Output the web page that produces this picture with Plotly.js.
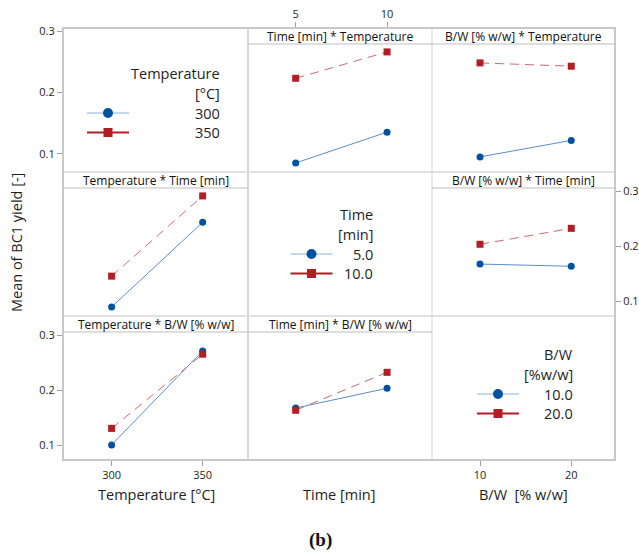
<!DOCTYPE html>
<html>
<head>
<meta charset="utf-8">
<script src="https://cdn.plot.ly/plotly-3.0.1.min.js"></script>
<style>
  html, body { margin: 0; padding: 0; background: #ffffff; }
  #plot { width: 639px; height: 555px; }
</style>
</head>
<body>
<div id="plot"></div>
<script>
// Factor levels
const temperature = [300, 350];
const time = [5, 10];
const bw = [10, 20];

// Mean BC1 yield for each pair of factor levels
// Temperature x Time (indexed by temperature)
const tempTime_t5 = [0.090, 0.244];
const tempTime_t10 = [0.146, 0.292];
// Temperature x B/W (indexed by temperature)
const tempBW_bw10 = [0.101, 0.272];
const tempBW_bw20 = [0.131, 0.266];
// Time x B/W (indexed by time)
const timeBW_bw10 = [0.168, 0.204];
const timeBW_bw20 = [0.164, 0.233];

// Axis ticks
const yTicks = [0.1, 0.2, 0.3];
const yTickText = ['0.1', '0.2', '0.3'];

// Legend labels
const tempLegend = ['300', '350'];
const timeLegend = ['5.0', '10.0'];
const bwLegend = ['10.0', '20.0'];

// ---- layout helpers (page is 639 x 555, no margins) ----
const W = 639, H = 555;
const px = x => x / W;
const py = y => 1 - y / H;

const colEdges = [63, 248, 432, 615];
const rowEdges = [28, 172, 316, 460];
const headerH = 16;

const xRanges = [[273.3, 374.9], [2.39, 12.46], [4.74, 24.79]];
const yRange = [0.0735, 0.3355];
// upper-left cell carries its own tick scale
const yRangeTopLeft = [0.0707, 0.3049];

const BLUE = 'rgb(0,82,160)';
const BLUE_LINE = 'rgb(95,140,200)';
const RED = 'rgb(178,30,36)';
const RED_LINE = 'rgb(205,105,112)';
const FRAME = 'rgb(200,200,200)';
const TXT = '#1e1e1e';
const FONT = 'Open Sans, Noto Sans, sans-serif';

const layout = {
  width: W, height: H,
  margin: {l: 0, r: 0, t: 0, b: 0},
  paper_bgcolor: '#ffffff',
  plot_bgcolor: 'rgba(0,0,0,0)',
  showlegend: false,
  font: {family: FONT, color: TXT},
  shapes: [],
  annotations: []
};

function axisBase() {
  return {
    showgrid: false, zeroline: false, showline: false,
    ticks: '', showticklabels: false, fixedrange: true,
    tickfont: {family: FONT, size: 11, color: TXT},
    ticklen: 5, tickcolor: 'rgb(160,160,160)', tickwidth: 1
  };
}

// build 3x3 grid of axes
let n = 0;
const cell = {};
const traces = [];
for (let r = 0; r < 3; r++) {
  for (let c = 0; c < 3; c++) {
    n++;
    const xa = 'xaxis' + (n === 1 ? '' : n);
    const ya = 'yaxis' + (n === 1 ? '' : n);
    const xs = 'x' + (n === 1 ? '' : n);
    const ys = 'y' + (n === 1 ? '' : n);
    const xA = axisBase();
    xA.domain = [px(colEdges[c]), px(colEdges[c + 1])];
    xA.range = xRanges[c];
    xA.anchor = ys;
    const yA = axisBase();
    yA.domain = [py(rowEdges[r + 1]), py(rowEdges[r])];
    yA.range = (r === 0 && c === 0) ? yRangeTopLeft : yRange;
    yA.anchor = xs;
    layout[xa] = xA;
    layout[ya] = yA;
    cell[r + '' + c] = {xs, ys, xA, yA};
    // register every subplot so that its axes are drawn
    traces.push({x: [], y: [], xaxis: xs, yaxis: ys, type: 'scatter', mode: 'markers', hoverinfo: 'skip'});
  }
}

// ticks: left of rows 1 and 3, right of row 2
function yTickAxis(a, side) {
  a.ticks = 'outside'; a.showticklabels = true;
  a.tickvals = yTicks; a.ticktext = yTickText; a.side = side;
}
yTickAxis(cell['00'].yA, 'left');
yTickAxis(cell['12'].yA, 'right');
yTickAxis(cell['20'].yA, 'left');

// x ticks: time on top, temperature and B/W at the bottom
function xTickAxis(a, vals, side) {
  a.ticks = 'outside'; a.showticklabels = true;
  a.tickvals = vals; a.ticktext = vals.map(String); a.side = side;
}
xTickAxis(cell['01'].xA, time, 'top');
xTickAxis(cell['20'].xA, temperature, 'bottom');
xTickAxis(cell['22'].xA, bw, 'bottom');

function addPair(key, x, yBlue, yRed) {
  const {xs, ys} = cell[key];
  traces.push({
    x: x, y: yBlue, xaxis: xs, yaxis: ys, type: 'scatter', mode: 'lines+markers',
    line: {color: BLUE_LINE, width: 1},
    marker: {symbol: 'circle', size: 7, color: BLUE}, hoverinfo: 'x+y'
  });
  traces.push({
    x: x, y: yRed, xaxis: xs, yaxis: ys, type: 'scatter', mode: 'lines+markers',
    line: {color: RED_LINE, width: 1, dash: '9px,6px'},
    marker: {symbol: 'square', size: 7, color: RED}, hoverinfo: 'x+y'
  });
}

// row 1: traces grouped by temperature
addPair('01', time, [tempTime_t5[0], tempTime_t10[0]], [tempTime_t5[1], tempTime_t10[1]]);
addPair('02', bw, [tempBW_bw10[0], tempBW_bw20[0]], [tempBW_bw10[1], tempBW_bw20[1]]);
// row 2: traces grouped by time
addPair('10', temperature, tempTime_t5, tempTime_t10);
addPair('12', bw, [timeBW_bw10[0], timeBW_bw20[0]], [timeBW_bw10[1], timeBW_bw20[1]]);
// row 3: traces grouped by B/W
addPair('20', temperature, tempBW_bw10, tempBW_bw20);
addPair('21', time, timeBW_bw10, timeBW_bw20);

// panel frame
const shapes = layout.shapes;
function pline(x0, y0, x1, y1, color, width) {
  shapes.push({type: 'line', xref: 'paper', yref: 'paper',
    x0: px(x0), y0: py(y0), x1: px(x1), y1: py(y1),
    line: {color: color, width: width}});
}
pline(colEdges[1], rowEdges[0], colEdges[1], rowEdges[3], FRAME, 1.5);
pline(colEdges[2], rowEdges[0], colEdges[2], rowEdges[3], 'rgb(215,215,215)', 1);
pline(colEdges[0], rowEdges[1], colEdges[3], rowEdges[1], 'rgb(215,215,215)', 1.5);
pline(colEdges[0], rowEdges[2], colEdges[3], rowEdges[2], 'rgb(215,215,215)', 1.5);
shapes.push({type: 'rect', xref: 'paper', yref: 'paper',
  x0: px(colEdges[0]), y0: py(rowEdges[3]), x1: px(colEdges[3]), y1: py(rowEdges[0]),
  line: {color: FRAME, width: 2}});

// panel headers
const headers = [
  ['01', 'Time [min] * Temperature'],
  ['02', 'B/W [% w/w] * Temperature'],
  ['10', 'Temperature * Time [min]'],
  ['12', 'B/W [% w/w] * Time [min]'],
  ['20', 'Temperature * B/W [% w/w]'],
  ['21', 'Time [min] * B/W [% w/w]']
];
const ann = layout.annotations;
headers.forEach(([key, label]) => {
  const r = +key[0], c = +key[1];
  const yb = rowEdges[r] + headerH;
  pline(colEdges[c], yb, colEdges[c + 1], yb, 'rgb(190,190,190)', 1.2);
  ann.push({xref: 'paper', yref: 'paper', x: px((colEdges[c] + colEdges[c + 1]) / 2),
    y: py(rowEdges[r] + headerH / 2 + 0.5), text: label, showarrow: false,
    xanchor: 'center', yanchor: 'middle',
    font: {family: FONT, size: 12, color: '#111'}});
});

// legends (key samples drawn on a full-page pixel axis)
layout.xaxis10 = {domain: [0, 1], range: [0, W], visible: false, fixedrange: true, anchor: 'y10'};
layout.yaxis10 = {domain: [0, 1], range: [H, 0], visible: false, fixedrange: true, anchor: 'x10'};

function legendBlock(titleLines, labels, textRight, keyX, yTop) {
  titleLines.forEach((t, i) => {
    ann.push({xref: 'paper', yref: 'paper', x: px(textRight), y: py(yTop + 20 * i),
      text: t, showarrow: false, xanchor: 'right', yanchor: 'middle',
      font: {family: FONT, size: 14.5, color: TXT}});
  });
  const styles = [
    {line: {color: 'rgb(140,175,220)', width: 1}, marker: {symbol: 'circle', size: 10, color: BLUE}},
    {line: {color: RED, width: 2}, marker: {symbol: 'square', size: 9, color: RED}}
  ];
  labels.forEach((lab, i) => {
    const yy = yTop + 40 + 19.5 * i;
    ann.push({xref: 'paper', yref: 'paper', x: px(textRight), y: py(yy),
      text: lab, showarrow: false, xanchor: 'right', yanchor: 'middle',
      font: {family: FONT, size: 14.5, color: TXT}});
    traces.push({x: [keyX - 21, keyX + 21], y: [yy, yy], xaxis: 'x10', yaxis: 'y10',
      type: 'scatter', mode: 'lines', line: styles[i].line, hoverinfo: 'skip'});
    traces.push({x: [keyX], y: [yy], xaxis: 'x10', yaxis: 'y10',
      type: 'scatter', mode: 'markers', marker: styles[i].marker, hoverinfo: 'skip'});
  });
}
legendBlock(['Temperature', '[°C]'], tempLegend, 222, 108, 73);
legendBlock(['Time', '[min]'], timeLegend, 375, 311.5, 214);
legendBlock(['B/W', '[%w/w]'], bwLegend, 575, 498, 354);

// axis titles
[['Temperature [°C]', 156], ['Time [min]', 339], ['B/W&nbsp;&nbsp;[% w/w]', 523]].forEach(([t, x]) => {
  ann.push({xref: 'paper', yref: 'paper', x: px(x), y: py(494), text: t, showarrow: false,
    xanchor: 'center', yanchor: 'middle', font: {family: FONT, size: 14.5, color: TXT}});
});
ann.push({xref: 'paper', yref: 'paper', x: px(17), y: py(243), text: 'Mean of BC1 yield [-]',
  showarrow: false, textangle: -90, xanchor: 'center', yanchor: 'middle',
  font: {family: FONT, size: 14.5, color: TXT}});
ann.push({xref: 'paper', yref: 'paper', x: px(320), y: py(540), text: '<b>(b)</b>',
  showarrow: false, xanchor: 'center', yanchor: 'middle',
  font: {family: 'Liberation Serif, DejaVu Serif, serif', size: 19, color: '#111'}});

Plotly.newPlot('plot', traces, layout, {staticPlot: true, displayModeBar: false});
</script>
</body>
</html>
